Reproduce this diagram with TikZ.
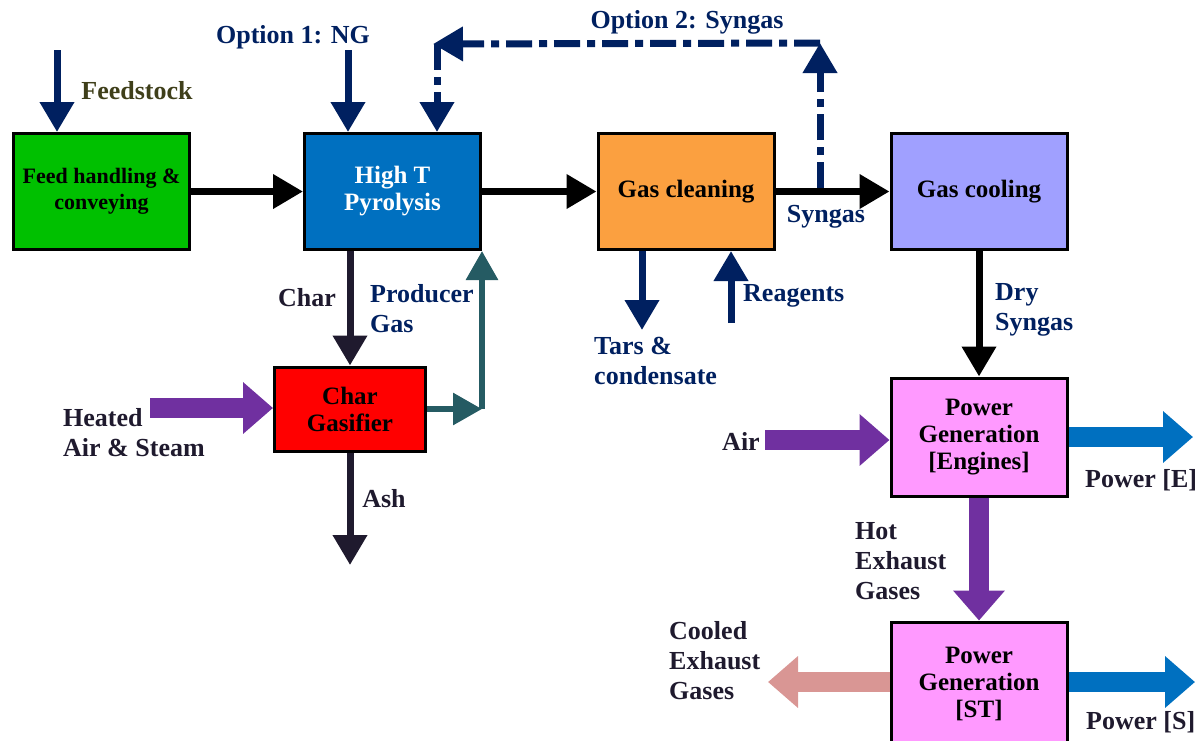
\documentclass[tikz,border=0pt]{standalone}
\usepackage{fontspec}
\setmainfont{Liberation Serif}
\usepackage{xcolor}
\usetikzlibrary{arrows.meta, calc, positioning}

\definecolor{navy}{HTML}{002060}
\definecolor{olivetext}{HTML}{3F3F1A}
\definecolor{darktext}{HTML}{1F1A2E}
\definecolor{feedgreen}{HTML}{00C000}
\definecolor{pyroblue}{HTML}{0070C0}
\definecolor{cleanorange}{HTML}{FBA040}
\definecolor{coolblue}{HTML}{A0A0FF}
\definecolor{powerpink}{HTML}{FF99FF}
\definecolor{gaspurple}{HTML}{7030A0}
\definecolor{prodteal}{HTML}{255B63}
\definecolor{exhaustpink}{HTML}{D99694}

\begin{document}
\begin{tikzpicture}[x=1pt, y=-1pt,
    unit/.style={draw=black, line width=3pt, minimum width=176pt, minimum height=116pt,
        inner sep=0pt, align=center, font=\bfseries\fontsize{25}{27}\selectfont},
    lbl/.style={inner sep=0pt, align=left, font=\bfseries\fontsize{26}{30}\selectfont},
    flow/.style={line width=7pt, -{Triangle[length=30pt, width=33pt]}},
    prodflow/.style={line width=6pt, prodteal, -{Triangle[length=29pt, width=31pt]}},
    bigflow/.style={line width=20pt, -{Triangle[length=30pt, width=50pt]}},
    optflow/.style={flow, navy, dash pattern=on 26pt off 7pt on 8pt off 7pt}]
    \useasboundingbox (0, 0) rectangle (1204, 740);

    \node[unit, fill=feedgreen, font=\bfseries\fontsize{22}{26}\selectfont] (feed) at (101.5, 191.5) {Feed handling \&\\conveying};
    \node[unit, fill=pyroblue, text=white] (pyro) at (392.5, 191.5) {High T\\Pyrolysis};
    \node[unit, fill=cleanorange] (clean) at (686, 191.5) {Gas cleaning};
    \node[unit, fill=coolblue] (cool) at (979, 191.5) {Gas cooling};
    \node[unit, fill=red, minimum width=151pt, minimum height=84pt] (gasif) at (350, 409) {Char\\Gasifier};
    \node[unit, fill=powerpink, minimum height=118pt] (eng) at (979, 437) {Power\\Generation\\{[Engines]}};
    \node[unit, fill=powerpink, minimum height=124pt] (st) at (979, 684) {Power\\Generation\\{[ST]}};

    \node[lbl, navy] (optng) at (293, 37) {Option 1: NG};
    \node[lbl, olivetext] (feedlbl) at (137, 91) {Feedstock};
    \node[lbl, navy] (optsyn) at (687, 22) {Option 2: Syngas};
    \node[lbl, navy] (synlbl) at (826, 217) {Syngas};
    \node[lbl, darktext, anchor=east] (charlbl) at (336, 298) {Char};
    \node[lbl, navy, anchor=west] (prodlbl) at (370, 309) {Producer\\Gas};
    \node[lbl, darktext, anchor=west] (heatlbl) at (63, 433) {Heated\\Air \& Steam};
    \node[lbl, darktext] (ashlbl) at (384, 499) {Ash};
    \node[lbl, navy, anchor=west] (tarslbl) at (594, 361) {Tars \&\\condensate};
    \node[lbl, navy, anchor=west] (reaglbl) at (743, 296) {Reagents};
    \node[lbl, navy, anchor=west] (drylbl) at (995, 310) {Dry\\Syngas};
    \node[lbl, darktext] (airlbl) at (741, 441) {Air};
    \node[lbl, darktext, anchor=west] (pelbl) at (1085, 480) {Power [E]};
    \node[lbl, darktext, anchor=west] (hotlbl) at (855, 561) {Hot\\Exhaust\\Gases};
    \node[lbl, darktext, anchor=west] (coollbl) at (669, 661) {Cooled\\Exhaust\\Gases};
    \node[lbl, darktext, anchor=west] (pslbl) at (1086, 722) {Power [S]};

    \coordinate (fsin) at (57, 50);
    \coordinate (ngin) at (348, 50);
    \coordinate (opt2a) at (820, 188);
    \coordinate (opt2b) at (820, 43);
    \coordinate (opt2c) at (437, 44);
    \coordinate (tarsout) at (642, 330);
    \coordinate (reagin) at (731, 323);
    \coordinate (ashout) at (350, 565);
    \coordinate (prodturn) at (482, 409);
    \coordinate (heatin) at (150, 408);
    \coordinate (airin) at (765, 440);
    \coordinate (peout) at (1193, 437);
    \coordinate (coolout) at (768, 682);
    \coordinate (psout) at (1195, 682);

    \draw[flow, navy] (fsin) -- (fsin |- feed.north);
    \draw[flow, navy] (ngin) -- (ngin |- pyro.north);
    \draw[optflow] (opt2a) -- (opt2b);
    \draw[optflow] (opt2b) -- ($(opt2c)+(-4, 0)$);
    \draw[optflow] (opt2c) -- (opt2c |- pyro.north);
    \draw[flow] (feed.east) -- (pyro.west);
    \draw[flow] (pyro.east) -- (clean.west);
    \draw[flow] (clean.east) -- (cool.west);
    \draw[flow, navy] (clean.south -| tarsout) -- (tarsout);
    \draw[flow, navy] (reagin) -- (reagin |- clean.south);
    \draw[flow, darktext] (gasif.north |- pyro.south) -- (gasif.north);
    \draw[flow, darktext] (gasif.south) -- (ashout);
    \draw[prodflow] (gasif.east) -- (prodturn);
    \draw[prodflow] (prodturn) -- (prodturn |- pyro.south);
    \draw[bigflow, gaspurple] (heatin) -- (heatin -| gasif.west);
    \draw[flow] (cool.south) -- (eng.north);
    \draw[bigflow, gaspurple] (airin) -- (airin -| eng.west);
    \draw[bigflow, pyroblue] (eng.east |- peout) -- (peout);
    \draw[bigflow, gaspurple] (eng.south) -- (st.north);
    \draw[bigflow, exhaustpink] (st.west |- coolout) -- (coolout);
    \draw[bigflow, pyroblue] (st.east |- psout) -- (psout);
\end{tikzpicture}
\end{document}
